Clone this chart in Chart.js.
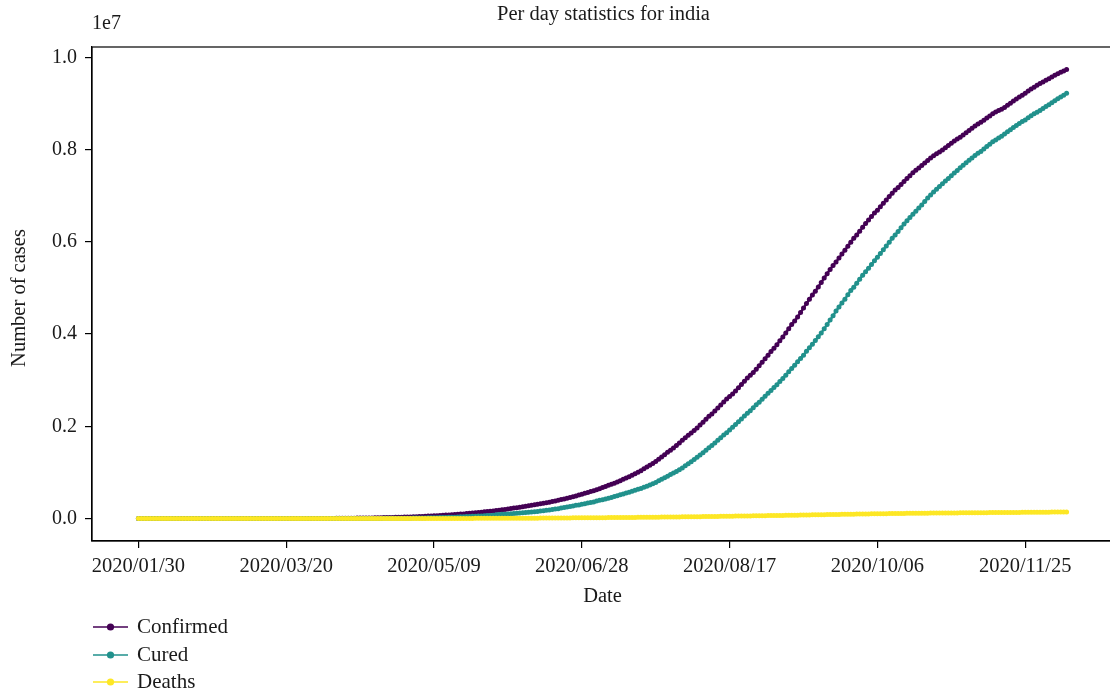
<!DOCTYPE html>
<html>
<head>
<meta charset="utf-8">
<title>Per day statistics for india</title>
<script src="https://cdn.jsdelivr.net/npm/chart.js@4.4.0/dist/chart.umd.min.js"></script>
<style>
  html, body { margin: 0; padding: 0; overflow: hidden; background: #ffffff; }
  #wrap { width: 1120px; height: 693px; position: relative; }
</style>
</head>
<body>
<div id="wrap"><canvas id="chart"></canvas></div>
<script>
// Daily cumulative counts for India, 2020/01/30 – 2020/12/09, in thousands of cases.
const startDate = [2020, 0, 30];
const seriesNames = ['Confirmed', 'Cured', 'Deaths'];
const seriesColors = ['#440154', '#21918c', '#fde725'];
const xTickIndex = [0, 50, 100, 150, 200, 250, 300];
const xTickLabels = ['2020/01/30', '2020/03/20', '2020/05/09', '2020/06/28', '2020/08/17', '2020/10/06', '2020/11/25'];
const yTickValues = [0.0, 0.2, 0.4, 0.6, 0.8, 1.0]; // in units of 1e7

const confirmedK = [
  // Jan 30 – Mar 1
  0,0,0,0,0,0,0,0,0,0,0,0,0,0,0,0,0,0,0,0,0,0,0,0,0,0,0,0,0,0,0,0,
  // Mar 2 – Mar 31
  0,0,0,0,0,0,0,0,0.1,0.1,0.1,0.1,0.1,0.1,0.1,0.1,0.2,0.2,0.2,0.3,0.4,0.5,0.5,0.7,0.7,0.9,1.0,1.0,1.3,1.4,
  // April
  1.8,2.1,2.5,3.1,3.6,4.3,4.8,5.3,5.7,6.4,7.4,8.4,9.2,10.4,11.4,12.4,13.4,14.4,15.7,17.3,18.6,20.1,21.7,23.1,24.5,26.5,27.9,29.4,31.3,33.1,
  // May
  35.0,37.3,40.0,42.5,46.4,49.4,53.0,56.3,59.7,62.9,67.2,70.8,74.3,78.0,82.0,85.9,90.9,96.2,101.1,106.8,112.4,118.4,125.1,131.9,138.8,145.4,151.8,158.3,165.8,173.8,182.1,
  // June
  190.5,198.7,207.6,216.9,226.8,236.7,246.6,256.6,266.6,276.6,286.6,297.5,309.0,320.9,332.4,343.1,354.1,366.9,380.5,395.0,410.5,425.3,440.2,456.2,473.1,490.4,509.0,528.9,548.3,566.8,
  // July
  585.5,604.6,625.5,648.3,673.2,697.4,719.7,742.4,767.3,793.8,820.9,849.6,878.3,906.8,936.2,968.9,1003.8,1038.7,1077.6,1118.0,1155.2,1192.9,1238.6,1287.9,1336.9,1385.5,1435.5,1483.2,1531.7,1583.8,1638.9,
  // August
  1696.0,1750.7,1803.7,1855.7,1908.3,1964.5,2027.1,2088.6,2153.0,2215.1,2268.7,2329.6,2396.6,2461.2,2526.2,2589.7,2647.7,2702.7,2767.3,2836.9,2905.8,2975.7,3044.9,3106.3,3167.3,3234.5,3310.2,3387.5,3464.0,3542.7,3621.2,
  // September
  3691.2,3769.5,3853.4,3936.7,4023.2,4113.8,4204.6,4280.4,4370.1,4465.9,4562.4,4660.0,4754.4,4846.4,4930.2,5020.4,5118.3,5214.7,5308.0,5400.6,5487.6,5562.7,5646.0,5732.5,5818.6,5903.9,5992.5,6074.7,6145.3,6225.8,
  // October
  6312.6,6394.1,6473.5,6549.4,6623.8,6685.1,6757.1,6835.7,6906.2,6979.4,7053.8,7120.5,7175.9,7239.4,7307.1,7370.5,7432.7,7494.6,7550.3,7597.1,7651.1,7706.9,7761.3,7814.7,7864.8,7910.0,7946.4,7990.3,8040.2,8088.9,8137.1,
  // November
  8184.1,8229.3,8267.6,8313.9,8364.1,8411.7,8462.1,8507.8,8553.7,8591.7,8636.0,8683.9,8728.8,8773.5,8814.6,8845.1,8874.3,8912.9,8958.5,9004.4,9050.6,9095.8,9139.9,9177.8,9222.2,9266.7,9309.8,9351.1,9392.9,9431.7,
  // December 1 – 9
  9462.8,9499.4,9535.0,9571.6,9608.2,9644.2,9677.2,9703.8,9735.9
];

const curedK = [
  // Jan 30 – Mar 1
  0,0,0,0,0,0,0,0,0,0,0,0,0,0,0,0,0,0,0,0,0,0,0,0,0,0,0,0,0,0,0,0,
  // Mar 2 – Mar 31
  0,0,0,0,0,0,0,0,0,0,0,0,0,0,0,0,0,0,0,0,0,0,0,0,0,0.1,0.1,0.1,0.1,0.1,
  // April
  0.1,0.2,0.2,0.2,0.3,0.3,0.4,0.4,0.5,0.5,0.7,0.8,1.0,1.0,1.2,1.4,1.7,2.0,2.2,2.5,3.0,3.9,4.3,5.0,5.1,5.9,6.2,6.9,7.7,8.3,
  // May
  8.9,10.0,10.6,11.7,12.7,14.2,15.3,16.5,17.8,19.4,20.9,22.5,24.4,26.2,27.9,30.2,34.1,36.8,39.2,42.3,45.3,48.5,51.8,54.4,57.7,60.5,64.4,67.7,71.1,82.4,87.0,
  // June
  91.8,95.5,100.3,104.1,108.5,114.1,119.3,124.1,129.2,134.7,141.0,147.2,154.3,162.4,169.8,180.0,186.9,194.3,204.7,213.8,227.8,237.2,248.2,258.7,271.7,285.6,295.9,309.7,321.7,334.8,
  // July
  348.0,359.9,379.9,394.2,409.1,424.4,439.9,456.8,476.4,495.5,515.4,534.6,553.5,571.5,592.0,612.8,635.8,653.8,677.4,700.1,724.6,753.1,782.6,817.2,849.4,885.6,917.6,952.7,988.0,1019.7,1057.8,
  // August
  1094.4,1145.6,1186.2,1230.5,1282.2,1327.2,1378.1,1427.0,1480.9,1535.7,1583.5,1639.6,1696.0,1751.6,1808.9,1862.3,1919.8,1977.8,2037.9,2096.7,2158.9,2222.6,2280.6,2338.0,2404.6,2467.8,2523.8,2583.9,2649.0,2713.9,2774.8,
  // September
  2839.9,2901.9,2970.5,3037.2,3107.2,3180.9,3250.4,3324.0,3398.8,3471.8,3542.7,3624.2,3702.6,3780.1,3859.4,3942.4,4025.1,4112.6,4208.4,4303.0,4396.4,4497.9,4587.6,4675.0,4756.2,4849.6,4941.6,5016.5,5101.4,5187.8,
  // October
  5273.2,5352.1,5427.7,5510.0,5586.7,5662.5,5744.7,5827.7,5906.1,5988.8,6078.0,6149.5,6224.8,6301.9,6383.4,6453.8,6524.6,6597.2,6663.6,6733.3,6795.1,6874.5,6948.5,7016.0,7078.1,7137.2,7201.1,7259.5,7316.0,7373.4,7432.8,
  // November
  7491.5,7544.8,7603.1,7656.5,7711.8,7766.0,7815.7,7869.0,7919.9,7959.4,8013.8,8066.1,8117.1,8166.1,8205.7,8249.6,8290.4,8335.1,8383.6,8428.4,8478.1,8521.6,8562.6,8605.0,8642.8,8689.5,8732.2,8774.7,8807.6,8847.6,
  // December 1 – 9
  8889.6,8932.6,8973.0,9016.3,9058.8,9100.8,9139.9,9178.9,9221.0
];

const deathsK = [
  // Jan 30 – Mar 1
  0,0,0,0,0,0,0,0,0,0,0,0,0,0,0,0,0,0,0,0,0,0,0,0,0,0,0,0,0,0,0,0,
  // Mar 2 – Mar 31
  0,0,0,0,0,0,0,0,0,0,0,0,0,0,0,0,0,0,0,0,0,0,0,0,0,0,0,0,0,0,
  // April
  0.0,0.1,0.1,0.1,0.1,0.1,0.1,0.1,0.2,0.2,0.2,0.3,0.3,0.3,0.4,0.4,0.4,0.5,0.5,0.5,0.6,0.6,0.7,0.7,0.8,0.8,0.9,0.9,1.0,1.1,
  // May
  1.1,1.2,1.3,1.4,1.6,1.7,1.8,1.9,2.0,2.1,2.2,2.3,2.4,2.5,2.6,2.8,2.9,3.0,3.2,3.3,3.4,3.6,3.7,3.9,4.0,4.2,4.3,4.5,4.7,5.0,5.2,
  // June
  5.4,5.6,5.8,6.1,6.3,6.6,6.9,7.1,7.5,7.7,8.1,8.5,8.9,9.2,9.5,9.9,11.9,12.2,12.6,12.9,13.3,13.7,14.0,14.5,14.9,15.3,15.7,16.1,16.5,16.9,
  // July
  17.4,17.8,18.2,18.7,19.3,19.7,20.2,20.6,21.1,21.6,22.1,22.7,23.2,23.7,24.3,24.9,25.6,26.3,26.8,27.5,28.1,28.7,29.9,30.6,31.4,32.1,32.8,33.4,34.2,35.0,35.7,
  // August
  36.5,37.4,38.1,38.9,39.8,40.7,41.6,42.5,43.4,44.4,45.3,46.1,47.0,48.0,49.0,50.0,50.9,51.8,52.9,53.9,54.8,55.8,56.7,57.5,58.4,59.4,60.5,61.5,62.6,63.5,64.5,
  // September
  65.3,66.3,67.4,68.5,69.6,70.6,71.6,72.8,73.9,75.1,76.3,77.5,78.6,79.7,80.8,82.1,83.2,84.4,85.6,86.8,87.9,88.9,90.0,91.1,92.3,93.4,94.5,95.5,96.3,97.5,
  // October
  98.7,99.8,100.8,101.8,102.7,103.6,104.6,105.5,106.5,107.4,108.3,109.2,109.9,110.6,111.3,112.2,113.0,114.0,114.6,115.2,115.9,116.6,117.3,118.0,118.5,119.0,119.5,120.0,120.5,121.1,121.6,
  // November
  122.1,122.6,123.1,123.6,124.3,125.0,125.6,126.1,126.6,127.1,127.6,128.1,128.7,129.2,129.6,130.1,130.5,131.0,131.6,132.2,132.7,133.2,133.7,134.2,134.7,135.2,135.7,136.2,136.7,137.1,
  // December 1 – 9
  137.6,138.1,138.6,139.2,139.7,140.2,140.6,141.0,141.4
];

// ---- build the chart from the arrays above ----
const FONT = "'Liberation Serif', 'Times New Roman', serif";
const INK = '#1a1a1a';
const seriesValues = [confirmedK, curedK, deathsK];
const nDays = confirmedK.length;

function dayLabel(i) {
  const d = new Date(Date.UTC(startDate[0], startDate[1], startDate[2] + i));
  const mm = String(d.getUTCMonth() + 1).padStart(2, '0');
  const dd = String(d.getUTCDate()).padStart(2, '0');
  return d.getUTCFullYear() + '/' + mm + '/' + dd;
}
const dates = Array.from({ length: nDays }, (_, i) => dayLabel(i));

// matplotlib-like 5% margins around the data
const xSpan = nDays - 1;
const xMin = -0.05 * xSpan, xMax = xSpan + 0.05 * xSpan;
const yTop = Math.max(...confirmedK) * 1000;
const yMin = -0.05 * yTop, yMax = yTop * 1.05;

const datasets = seriesNames.map((name, s) => ({
  label: name,
  data: seriesValues[s].map((v, i) => ({ x: i, y: v * 1000 })),
  borderColor: seriesColors[s],
  backgroundColor: seriesColors[s],
  pointBackgroundColor: seriesColors[s],
  borderWidth: 2.4,
  pointRadius: 2.5,
  pointBorderWidth: 0,
  pointHoverRadius: 3,
  tension: 0,
  order: seriesNames.length - 1 - s
}));

const decorations = {
  id: 'decorations',
  afterDatasetsDraw(chart) {
    const { ctx, chartArea: a } = chart;
    ctx.save();
    ctx.strokeStyle = '#000';
    ctx.lineWidth = 1.2;
    ctx.strokeRect(a.left, a.top, a.right - a.left, a.bottom - a.top);
    ctx.restore();
  },
  afterDraw(chart) {
    const { ctx, chartArea: a } = chart;
    const cx = (a.left + a.right) / 2;
    ctx.save();
    ctx.fillStyle = INK;
    ctx.textBaseline = 'middle';

    // title
    ctx.font = '20.5px ' + FONT;
    ctx.textAlign = 'center';
    ctx.fillText('Per day statistics for india', cx + 1, 15);

    // axis offset
    ctx.font = '20px ' + FONT;
    ctx.textAlign = 'left';
    ctx.fillText('1e7', a.left, 24);

    // axis titles
    ctx.font = '20.5px ' + FONT;
    ctx.textAlign = 'center';
    ctx.fillText('Date', cx, 597);
    ctx.save();
    ctx.translate(20, (a.top + a.bottom) / 2 + 4);
    ctx.rotate(-Math.PI / 2);
    ctx.fillText('Number of cases', 0, 0);
    ctx.restore();

    // legend: line with a dot, then the series name
    ctx.font = '21px ' + FONT;
    const rowY = [627, 655, 682];
    chart.data.datasets.forEach((ds, i) => {
      const y = rowY[i];
      ctx.strokeStyle = ds.borderColor;
      ctx.lineWidth = 1.6;
      ctx.beginPath();
      ctx.moveTo(93, y);
      ctx.lineTo(128, y);
      ctx.stroke();
      ctx.fillStyle = ds.borderColor;
      ctx.beginPath();
      ctx.arc(110.5, y, 3.6, 0, Math.PI * 2);
      ctx.fill();
      ctx.fillStyle = INK;
      ctx.textAlign = 'left';
      ctx.fillText(ds.label, 137, y);
    });
    ctx.restore();
  }
};

new Chart(document.getElementById('chart'), {
  type: 'line',
  data: { labels: dates, datasets },
  options: {
    responsive: true,
    maintainAspectRatio: false,
    animation: false,
    devicePixelRatio: 1,
    layout: { padding: { left: 0, right: 7, top: 47, bottom: 0 } },
    plugins: { legend: { display: false }, tooltip: { enabled: false }, title: { display: false } },
    scales: {
      x: {
        type: 'linear',
        min: xMin,
        max: xMax,
        afterBuildTicks: s => { s.ticks = xTickIndex.map(v => ({ value: v })); },
        afterFit: s => { s.height = 152; },
        ticks: {
          autoSkip: false,
          maxRotation: 0,
          padding: 6,
          color: INK,
          font: { family: FONT, size: 20.5 },
          callback: v => xTickLabels[xTickIndex.indexOf(v)]
        },
        grid: { drawOnChartArea: false, drawTicks: true, tickLength: 7, color: '#000', lineWidth: 1.2 },
        border: { display: true, color: '#000', width: 1.2 }
      },
      y: {
        min: yMin,
        max: yMax,
        afterBuildTicks: s => { s.ticks = yTickValues.map(v => ({ value: v * 1e7 })); },
        afterFit: s => { s.width = 92; },
        ticks: {
          padding: 8,
          color: INK,
          font: { family: FONT, size: 20 },
          callback: v => (v / 1e7).toFixed(1)
        },
        grid: { drawOnChartArea: false, drawTicks: true, tickLength: 7, color: '#000', lineWidth: 1.2 },
        border: { display: true, color: '#000', width: 1.2 }
      }
    }
  },
  plugins: [decorations]
});
</script>
</body>
</html>
